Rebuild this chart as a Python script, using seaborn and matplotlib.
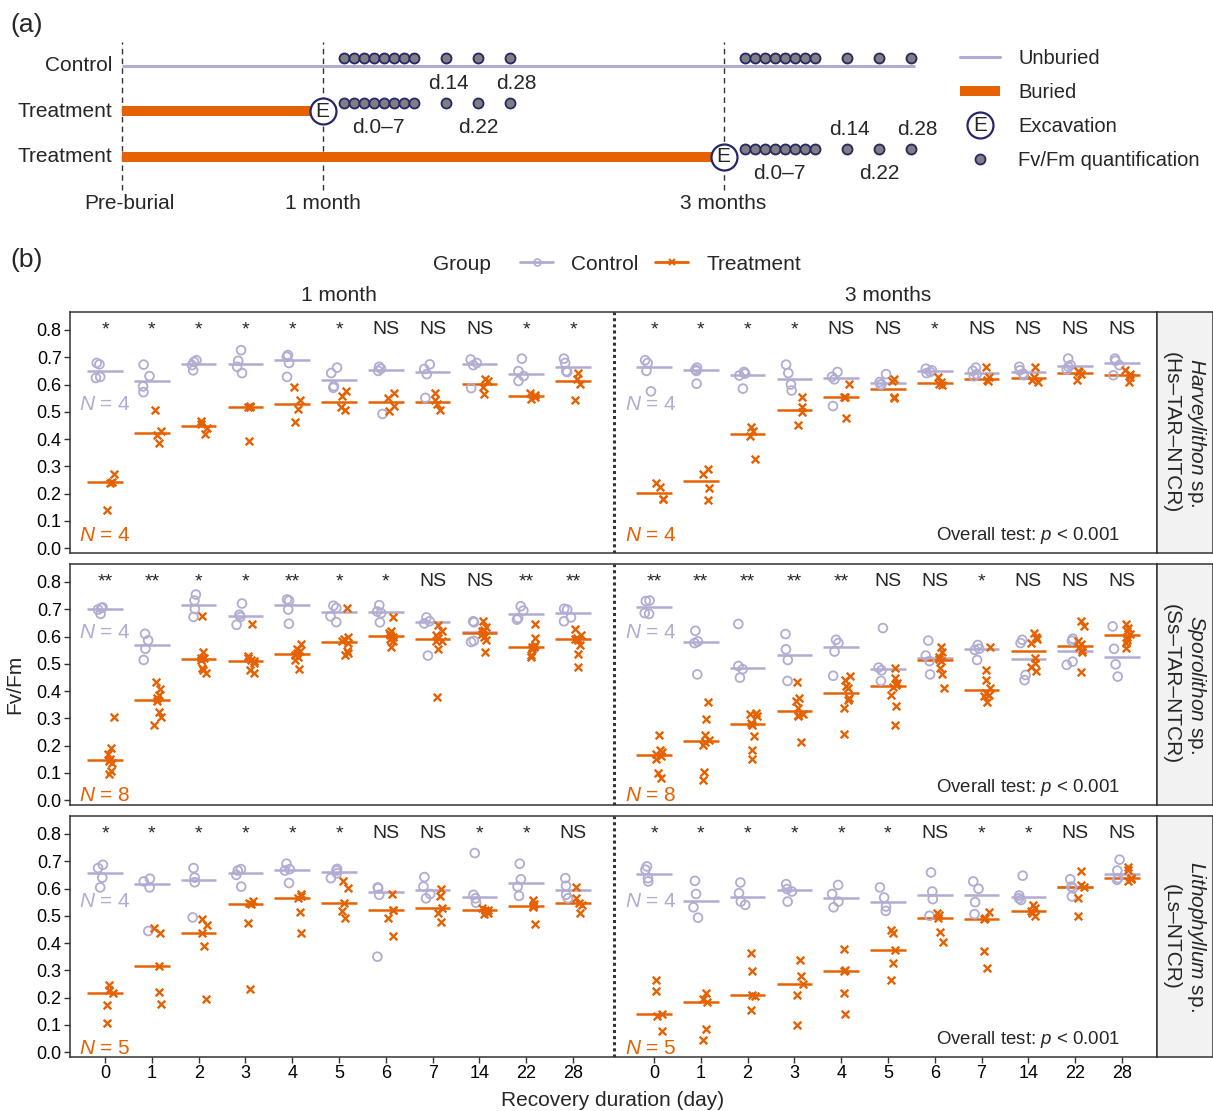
import numpy as np
import pandas as pd
import matplotlib
matplotlib.use("Agg")
import matplotlib.pyplot as plt
import seaborn as sns
from matplotlib.lines import Line2D
from matplotlib.legend_handler import HandlerBase
from matplotlib.text import Text

# ---------------- data ----------------
days = [0, 1, 2, 3, 4, 5, 6, 7, 14, 22, 28]
periods = ["1 month", "3 months"]

# Harveylithon sp. (Hs-TAR-NTCR)
hs_1m_ctrl = [[0.679, 0.674, 0.628, 0.624], [0.673, 0.631, 0.593, 0.572], [0.689, 0.683, 0.671, 0.652],
              [0.726, 0.687, 0.665, 0.642], [0.708, 0.702, 0.679, 0.628], [0.662, 0.642, 0.594, 0.588],
              [0.665, 0.658, 0.650, 0.492], [0.674, 0.657, 0.638, 0.551], [0.692, 0.679, 0.671, 0.587],
              [0.695, 0.649, 0.631, 0.613], [0.695, 0.679, 0.649, 0.646]]
hs_1m_trt = [[0.273, 0.242, 0.240, 0.138], [0.507, 0.431, 0.416, 0.385], [0.468, 0.455, 0.441, 0.418],
             [0.522, 0.518, 0.516, 0.391], [0.591, 0.544, 0.511, 0.464], [0.578, 0.558, 0.517, 0.507],
             [0.569, 0.551, 0.523, 0.502], [0.569, 0.544, 0.529, 0.507], [0.622, 0.612, 0.591, 0.566],
             [0.569, 0.562, 0.556, 0.548], [0.642, 0.622, 0.603, 0.542]]
hs_3m_ctrl = [[0.689, 0.679, 0.650, 0.575], [0.662, 0.655, 0.650, 0.603], [0.646, 0.640, 0.633, 0.585],
              [0.673, 0.642, 0.600, 0.578], [0.646, 0.628, 0.619, 0.521], [0.638, 0.609, 0.600, 0.600],
              [0.658, 0.652, 0.646, 0.642], [0.662, 0.650, 0.638, 0.630], [0.665, 0.652, 0.640, 0.634],
              [0.695, 0.671, 0.665, 0.655], [0.695, 0.687, 0.671, 0.634]]
hs_3m_trt = [[0.240, 0.224, 0.181, 0.180], [0.289, 0.273, 0.222, 0.178], [0.443, 0.428, 0.412, 0.326],
             [0.554, 0.517, 0.498, 0.452], [0.603, 0.556, 0.554, 0.478], [0.621, 0.612, 0.554, 0.550],
             [0.628, 0.609, 0.603, 0.597], [0.665, 0.628, 0.615, 0.612], [0.665, 0.628, 0.618, 0.609],
             [0.650, 0.645, 0.640, 0.615], [0.655, 0.640, 0.628, 0.609]]

# Sporolithon sp. (Ss-TAR-NTCR)
ss_1m_ctrl = [[0.707, 0.705, 0.699, 0.683], [0.610, 0.586, 0.555, 0.514], [0.754, 0.732, 0.701, 0.672],
              [0.721, 0.680, 0.672, 0.643], [0.736, 0.732, 0.699, 0.647], [0.713, 0.705, 0.674, 0.653],
              [0.715, 0.692, 0.686, 0.652], [0.670, 0.656, 0.648, 0.530], [0.656, 0.652, 0.584, 0.580],
              [0.711, 0.695, 0.668, 0.662], [0.702, 0.699, 0.670, 0.656]]
ss_1m_trt = [[0.305, 0.192, 0.170, 0.151, 0.145, 0.137, 0.108, 0.096],
             [0.434, 0.406, 0.387, 0.373, 0.363, 0.323, 0.305, 0.277],
             [0.677, 0.545, 0.523, 0.520, 0.514, 0.486, 0.477, 0.465],
             [0.647, 0.529, 0.520, 0.514, 0.510, 0.502, 0.477, 0.465],
             [0.572, 0.555, 0.547, 0.539, 0.533, 0.526, 0.514, 0.481],
             [0.705, 0.600, 0.592, 0.583, 0.575, 0.547, 0.539, 0.533],
             [0.670, 0.621, 0.613, 0.606, 0.600, 0.592, 0.582, 0.563],
             [0.641, 0.619, 0.604, 0.594, 0.585, 0.582, 0.553, 0.379],
             [0.658, 0.635, 0.625, 0.619, 0.609, 0.600, 0.588, 0.545],
             [0.647, 0.594, 0.569, 0.563, 0.560, 0.555, 0.533, 0.526],
             [0.627, 0.606, 0.596, 0.592, 0.588, 0.569, 0.535, 0.490]]
ss_3m_ctrl = [[0.732, 0.730, 0.686, 0.683], [0.621, 0.582, 0.576, 0.461], [0.646, 0.492, 0.480, 0.449],
              [0.609, 0.553, 0.514, 0.437], [0.588, 0.576, 0.545, 0.456], [0.631, 0.486, 0.476, 0.437],
              [0.585, 0.530, 0.510, 0.461], [0.569, 0.555, 0.551, 0.514], [0.588, 0.576, 0.459, 0.440],
              [0.592, 0.584, 0.508, 0.496], [0.637, 0.555, 0.498, 0.453]]
ss_3m_trt = [[0.240, 0.182, 0.176, 0.170, 0.163, 0.151, 0.100, 0.080],
             [0.360, 0.296, 0.237, 0.219, 0.213, 0.203, 0.102, 0.075],
             [0.321, 0.314, 0.309, 0.282, 0.275, 0.235, 0.182, 0.151],
             [0.434, 0.375, 0.363, 0.336, 0.317, 0.311, 0.309, 0.213],
             [0.456, 0.440, 0.418, 0.412, 0.373, 0.367, 0.336, 0.244],
             [0.483, 0.449, 0.428, 0.422, 0.416, 0.385, 0.346, 0.274],
             [0.563, 0.542, 0.525, 0.516, 0.510, 0.483, 0.461, 0.410],
             [0.560, 0.477, 0.440, 0.412, 0.394, 0.387, 0.381, 0.358],
             [0.613, 0.600, 0.592, 0.576, 0.520, 0.502, 0.490, 0.474],
             [0.658, 0.637, 0.582, 0.572, 0.560, 0.551, 0.545, 0.471],
             [0.646, 0.631, 0.619, 0.609, 0.600, 0.588, 0.576, 0.557]]

# Lithophyllum sp. (Ls-NTCR)
ls_1m_ctrl = [[0.687, 0.675, 0.640, 0.604], [0.636, 0.626, 0.604, 0.444], [0.675, 0.640, 0.623, 0.494],
              [0.671, 0.666, 0.650, 0.607], [0.691, 0.671, 0.666, 0.620], [0.672, 0.666, 0.656, 0.638],
              [0.604, 0.601, 0.577, 0.350], [0.642, 0.607, 0.580, 0.564], [0.730, 0.577, 0.564, 0.548],
              [0.691, 0.634, 0.607, 0.573], [0.638, 0.610, 0.577, 0.564]]
ls_1m_trt = [[0.245, 0.227, 0.217, 0.172, 0.107], [0.454, 0.436, 0.315, 0.221, 0.175],
             [0.487, 0.466, 0.436, 0.389, 0.196], [0.556, 0.546, 0.542, 0.475, 0.231],
             [0.579, 0.571, 0.564, 0.513, 0.438], [0.626, 0.601, 0.546, 0.519, 0.491],
             [0.579, 0.523, 0.521, 0.491, 0.427], [0.599, 0.571, 0.528, 0.509, 0.479],
             [0.528, 0.523, 0.521, 0.512, 0.505], [0.558, 0.544, 0.536, 0.534, 0.469],
             [0.607, 0.564, 0.548, 0.540, 0.509]]
ls_3m_ctrl = [[0.681, 0.669, 0.638, 0.626], [0.628, 0.580, 0.531, 0.493], [0.622, 0.583, 0.552, 0.540],
              [0.616, 0.598, 0.589, 0.552], [0.613, 0.580, 0.552, 0.531], [0.604, 0.567, 0.534, 0.518],
              [0.659, 0.589, 0.561, 0.500], [0.626, 0.599, 0.550, 0.506], [0.647, 0.574, 0.564, 0.558],
              [0.634, 0.607, 0.601, 0.571], [0.706, 0.666, 0.638, 0.632]]
ls_3m_trt = [[0.266, 0.223, 0.141, 0.133, 0.077], [0.215, 0.193, 0.184, 0.083, 0.045],
             [0.364, 0.297, 0.208, 0.206, 0.153], [0.337, 0.279, 0.249, 0.209, 0.098],
             [0.377, 0.301, 0.298, 0.215, 0.141], [0.448, 0.438, 0.374, 0.325, 0.264],
             [0.512, 0.503, 0.491, 0.442, 0.405], [0.513, 0.491, 0.487, 0.371, 0.307],
             [0.540, 0.528, 0.518, 0.509, 0.500], [0.666, 0.613, 0.607, 0.564, 0.501],
             [0.679, 0.669, 0.638, 0.634, 0.626]]

# significance per day (1 month, 3 months)
hs_sig = [["*", "*", "*", "*", "*", "*", "NS", "NS", "NS", "*", "*"],
          ["*", "*", "*", "*", "NS", "NS", "*", "NS", "NS", "NS", "NS"]]
ss_sig = [["**", "**", "*", "*", "**", "*", "*", "NS", "NS", "**", "**"],
          ["**", "**", "**", "**", "**", "NS", "NS", "*", "NS", "NS", "NS"]]
ls_sig = [["*", "*", "*", "*", "*", "*", "NS", "NS", "*", "*", "NS"],
          ["*", "*", "*", "*", "*", "*", "NS", "*", "*", "NS", "NS"]]

strip_labels = [r"$\mathit{Harveylithon}$ sp." + "\n(Hs\u2013TAR\u2013NTCR)",
                r"$\mathit{Sporolithon}$ sp." + "\n(Ss\u2013TAR\u2013NTCR)",
                r"$\mathit{Lithophyllum}$ sp." + "\n(Ls\u2013NTCR)"]

# panel (a) schematic
timeline_rows = ["Control", "Treatment", "Treatment"]
burial_months = [0, 1, 3]
milestones = [0, 1, 3]
milestone_labels = ["Pre-burial", "1 month", "3 months"]
study_end = 3.955

# ---------------- styling ----------------
LAV = "#B2ABD2"
ORG = "#E66101"
NAVY = "#26266A"
DOT = "#7F7F7F"
DARK = "#333333"

sns.set_style("ticks")
plt.rcParams["font.family"] = ["Liberation Sans", "DejaVu Sans"]
plt.rcParams["mathtext.fontset"] = "custom"
plt.rcParams["mathtext.rm"] = "Liberation Sans"
plt.rcParams["mathtext.it"] = "Liberation Sans:italic"

W, H = 1213, 1111
fig = plt.figure(figsize=(W / 100, H / 100), dpi=100)


def fx(px):
    return px / W


def fy(px):
    return 1 - px / H


# ---------------- long table ----------------
species_blocks = [
    ("Hs", {("1 month", "Control"): hs_1m_ctrl, ("1 month", "Treatment"): hs_1m_trt,
            ("3 months", "Control"): hs_3m_ctrl, ("3 months", "Treatment"): hs_3m_trt}, hs_sig),
    ("Ss", {("1 month", "Control"): ss_1m_ctrl, ("1 month", "Treatment"): ss_1m_trt,
            ("3 months", "Control"): ss_3m_ctrl, ("3 months", "Treatment"): ss_3m_trt}, ss_sig),
    ("Ls", {("1 month", "Control"): ls_1m_ctrl, ("1 month", "Treatment"): ls_1m_trt,
            ("3 months", "Control"): ls_3m_ctrl, ("3 months", "Treatment"): ls_3m_trt}, ls_sig),
]

records = []
for sp, blocks, _ in species_blocks:
    for (per, grp), vals in blocks.items():
        for d, reps in zip(days, vals):
            for v in reps:
                records.append((sp, per, grp, d, v))
df = pd.DataFrame(records, columns=["species", "period", "group", "day", "fvfm"])

SHIFT = 11.73  # gap between the two recovery series
day_idx = {d: i for i, d in enumerate(days)}
df["xc"] = df["day"].map(day_idx) + np.where(df["period"] == "3 months", SHIFT, 0.0)
rng = np.random.default_rng(11)
df["xpos"] = df["xc"] + np.where(df["group"] == "Control", -0.12, 0.12) + rng.uniform(-0.08, 0.08, len(df))

# ---------------- panel (b) ----------------
row_tops = [312, 564, 816]
row_h = 241
lav_n_y = [0.528, 0.613, 0.554]
org_n_y = [0.046, 0.017, 0.015]
xticks = [i for i in range(len(days))] + [i + SHIFT for i in range(len(days))]

for r, (sp, blocks, sig) in enumerate(species_blocks):
    top = row_tops[r]
    ax = fig.add_axes([fx(70), fy(top + row_h), fx(1157) - fx(70), row_h / H])
    sub = df[df["species"] == sp]
    for grp, col, mk, sz, lw in [("Control", LAV, "o", 40, 1.3), ("Treatment", ORG, "x", 30, 1.7)]:
        g = sub[sub["group"] == grp]
        sns.scatterplot(data=g, x="xpos", y="fvfm", marker=mk, color=col, s=sz,
                        linewidth=lw, ax=ax, legend=False, zorder=3)
        coll = ax.collections[-1]
        if mk == "o":
            coll.set_facecolor("none")
        coll.set_edgecolor(col)
        med = g.groupby("xc", as_index=False)["fvfm"].median()
        ax.hlines(med["fvfm"], med["xc"] - 0.38, med["xc"] + 0.38, color=col, lw=1.8, zorder=2)

    ax.set_xlim(-0.75, len(days) - 1 + SHIFT + 0.75)
    ax.set_ylim(-0.018, 0.866)
    ax.set_yticks(np.arange(0, 0.81, 0.1))
    ax.set_yticklabels([f"{t:.1f}" for t in np.arange(0, 0.81, 0.1)])
    ax.set_xticks(xticks)
    ax.set_xticklabels([str(d) for d in days] * 2)
    ax.set_xlabel("")
    ax.set_ylabel("")
    for s in ax.spines.values():
        s.set_color(DARK)
        s.set_linewidth(1.1)
    ax.tick_params(length=4, width=1.0, color=DARK, labelsize=13, pad=2, labelcolor="black")
    if r < 2:
        ax.tick_params(axis="x", bottom=False, labelbottom=False)

    ax.axvline(len(days) - 1 + (SHIFT - (len(days) - 1)) / 2, color=DARK, lw=2.2, ls=(0, (1, 1)), zorder=1)

    for p, per in enumerate(periods):
        for i, lab in enumerate(sig[p]):
            ax.text(i + p * SHIFT, 0.785, lab, ha="center", va="baseline", fontsize=14)
        n_ctrl = len(blocks[(per, "Control")][0])
        n_trt = len(blocks[(per, "Treatment")][0])
        x0 = -0.55 if p == 0 else SHIFT - 0.62
        ax.text(x0, lav_n_y[r], rf"$N$ = {n_ctrl}", color=LAV, fontsize=15, va="center", ha="left")
        ax.text(x0, org_n_y[r], rf"$N$ = {n_trt}", color=ORG, fontsize=15, va="center", ha="left")

    ax.text(0.966, 0.03, r"Overall test: $p$ < 0.001", transform=ax.transAxes,
            ha="right", va="bottom", fontsize=13.4)

    if r == 0:
        for p, per in enumerate(periods):
            ax.text((len(days) - 1) / 2 + p * SHIFT, 1.07, per, transform=ax.get_xaxis_transform(),
                    ha="center", va="center", fontsize=15)

    sax = fig.add_axes([fx(1157), fy(top + row_h), fx(W) - fx(1157), row_h / H])
    sax.set_facecolor("#F2F2F2")
    sax.set_xticks([])
    sax.set_yticks([])
    for s in sax.spines.values():
        s.set_color(DARK)
        s.set_linewidth(1.1)
    sax.text(0.5, 0.5, strip_labels[r], rotation=-90, ha="center", va="center",
             fontsize=15, linespacing=1.3, transform=sax.transAxes)

fig.text(fx(15), fy(684), "Fv/Fm", rotation=90, ha="center", va="center", fontsize=15)
fig.text(fx(613), fy(1100), "Recovery duration (day)", ha="center", va="center", fontsize=15)

# legend (b)
fig.text(fx(433), fy(264), "Group", ha="left", va="center", fontsize=15)
grp_handles = [Line2D([], [], color=LAV, lw=2, marker="o", ms=5, mfc="none", mew=1.2),
               Line2D([], [], color=ORG, lw=2, marker="x", ms=5, mew=1.5)]
fig.legend(grp_handles, ["Control", "Treatment"], ncol=2, loc="center left",
           bbox_to_anchor=(fx(520), fy(264)), frameon=False, fontsize=15,
           handlelength=1.6, handletextpad=0.85, columnspacing=0.8, borderpad=0, borderaxespad=0)

fig.text(fx(10), fy(25), "(a)", ha="left", va="center", fontsize=19)
fig.text(fx(10), fy(260), "(b)", ha="left", va="center", fontsize=19)

# ---------------- panel (a) ----------------
axa = fig.add_axes([0, fy(220), 1, 220 / H])
axa.set_xlim(-0.6085, 5.4414)
axa.set_ylim(-0.3846, 4.4505)
axa.axis("off")

row_y = [3, 2, 1]


def sample_offsets():
    return [0.105 + 0.05 * min(i, 7) + 0.16 * max(i - 7, 0) for i in range(len(days))]


offs = sample_offsets()
dot_lift = 0.176

axa.vlines(milestones, 0.275, 3.527, color=DARK, lw=1.0, ls=(0, (4, 3)), zorder=1)
for m, lab in zip(milestones, milestone_labels):
    axa.text(m + 0.035 * (m == 0), -0.011, lab, ha="center", va="center", fontsize=15)

for name, y, bm in zip(timeline_rows, row_y, burial_months):
    axa.text(-0.05, y, name, ha="right", va="center", fontsize=15)
    if bm == 0:
        axa.plot([0, study_end], [y, y], color=LAV, lw=2.2, solid_capstyle="butt", zorder=2)
        starts = [1, 3]
    else:
        axa.plot([0, bm], [y, y], color=ORG, lw=7.2, solid_capstyle="butt", zorder=2)
        axa.plot([bm], [y], marker="o", ms=18.7, mfc="white", mec=NAVY, mew=1.6, zorder=4)
        axa.text(bm, y, "E", ha="center", va="center", fontsize=15, zorder=5)
        starts = [bm]
    for st in starts:
        xs = [st + o for o in offs]
        axa.plot(xs, [y + dot_lift] * len(xs), ls="none", marker="o", ms=7.2,
                 mfc=DOT, mec=NAVY, mew=1.3, zorder=3)
    if bm > 0:
        xs = [bm + o for o in offs]
        up = 0.615 if bm == 1 else 0.6
        dn = -0.352 if bm == 1 else -0.37
        axa.text(xs[8] + 0.015, y + up, "d.14", ha="center", va="center", fontsize=15)
        axa.text(xs[10] + 0.03, y + up, "d.28", ha="center", va="center", fontsize=15)
        axa.text((xs[0] + xs[7]) / 2, y + dn, "d.0\u20137", ha="center", va="center", fontsize=15)
        axa.text(xs[9], y + dn, "d.22", ha="center", va="center", fontsize=15)


class ExcavationKey:
    pass


class HandlerE(HandlerBase):
    def create_artists(self, legend, orig_handle, xdescent, ydescent, width, height, fontsize, trans):
        cx = 0.5 * width - xdescent
        cy = 0.5 * height - ydescent
        circ = Line2D([cx], [cy], marker="o", ms=18.7, mfc="white", mec=NAVY, mew=1.6,
                      ls="none", transform=trans)
        letter = Text(cx, cy, "E", ha="center", va="center", fontsize=15, transform=trans)
        return [circ, letter]


a_handles = [Line2D([], [], color=LAV, lw=2.2),
             Line2D([], [], color=ORG, lw=7.2, solid_capstyle="butt"),
             ExcavationKey(),
             Line2D([], [], ls="none", marker="o", ms=7.2, mfc=DOT, mec=NAVY, mew=1.3)]
fig.legend(a_handles, ["Unburied", "Buried", "Excavation", "Fv/Fm quantification"],
           handler_map={ExcavationKey: HandlerE()}, loc="upper left",
           bbox_to_anchor=(fx(960), fy(49)), frameon=False, fontsize=14.5,
           handlelength=2.0, handletextpad=0.9, labelspacing=0.75, borderpad=0, borderaxespad=0)

fig.savefig("out.png", dpi=100)
